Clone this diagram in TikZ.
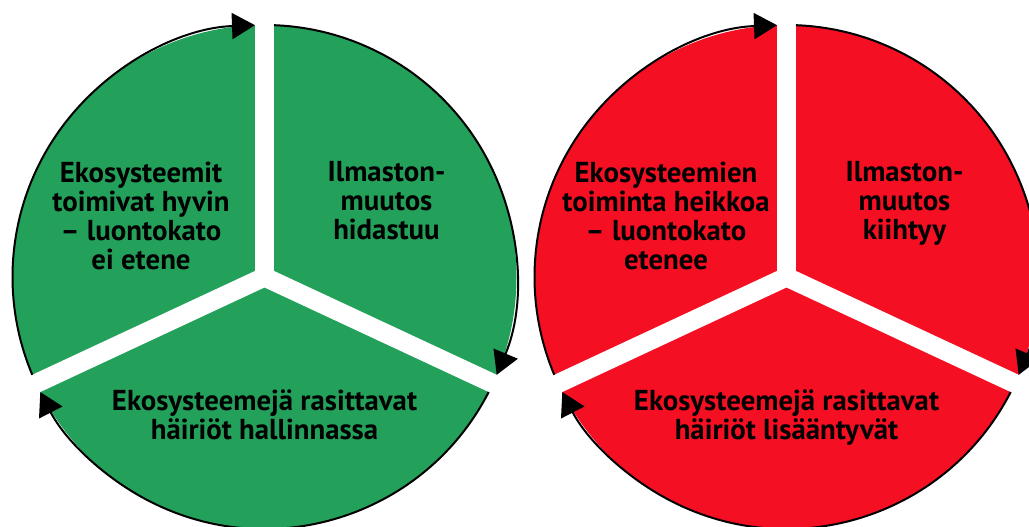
\documentclass[tikz,border=0pt]{standalone}
\usepackage{fontspec}
\setmainfont{PT Sans}
\usepackage{tikz}
\usetikzlibrary{arrows.meta,positioning}
\definecolor{goodgreen}{RGB}{35,161,90}
\definecolor{badred}{RGB}{245,15,35}
\tikzset{
	gap/.style={
		draw=white,
		line width=19pt,
	},
	cycle arc/.style={
		line width=2pt,
		-{Triangle[length=23pt,width=26pt]},
	},
	sector text/.style={
		anchor=north,
		align=center,
		inner sep=0pt,
		font=\bfseries\fontsize{28.8}{29}\selectfont,
	},
}
\def\wr{252}
\def\gd{2.16}

\begin{document}
\begin{tikzpicture}[x=1pt,y=1pt]
	\useasboundingbox (0,0) rectangle (1029,527);
	\coordinate (gc) at (264.5,250);
	\coordinate[right=522pt of gc] (rc);
	% wheels
	\fill[goodgreen] (gc) circle[radius=\wr];
	\fill[badred] (rc) circle[radius=\wr];
	% white gaps between the sectors
	\foreach \c in {gc,rc}{
		\foreach \a in {90,-25,205}{
			\draw[gap] (\c) -- ([shift={(\a:\wr+20)}]\c);
		}
	}
	% clockwise arcs with arrow tips
	\foreach \c in {gc,rc}{
		\draw[cycle arc] ([shift={(205-\gd:\wr)}]\c) arc[start angle=205-\gd, end angle=90+\gd, radius=\wr];
		\draw[cycle arc] ([shift={(90-\gd:\wr)}]\c) arc[start angle=90-\gd, end angle=-25+\gd, radius=\wr];
		\draw[cycle arc] ([shift={(-25-\gd:\wr)}]\c) arc[start angle=-25-\gd, end angle=-155+\gd, radius=\wr];
	}
	% texts
	\node[sector text] (g1) at ([shift={(-123.5,115.5)}]gc) {Ekosysteemit\\toimivat hyvin\\– luontokato\\ei etene};
	\node[sector text] (g2) at ([shift={(122,115.5)}]gc) {Ilmaston-\\muutos\\hidastuu};
	\node[sector text] (g3) at ([shift={(0,-112.5)}]gc) {Ekosysteemejä rasittavat\\häiriöt hallinnassa};
	\node[sector text] (r1) at ([shift={(-120.5,115.5)}]rc) {Ekosysteemien\\toiminta heikkoa\\– luontokato\\etenee};
	\node[sector text] (r2) at ([shift={(118,115.5)}]rc) {Ilmaston-\\muutos\\kiihtyy};
	\node[sector text] (r3) at ([shift={(0,-112.5)}]rc) {Ekosysteemejä rasittavat\\häiriöt lisääntyvät};
\end{tikzpicture}
\end{document}
